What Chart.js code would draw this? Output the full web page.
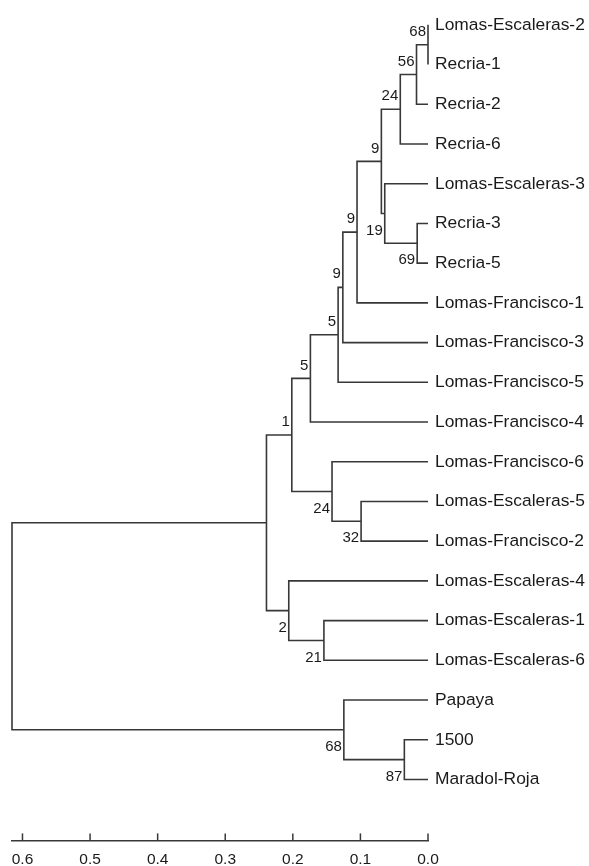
<!DOCTYPE html>
<html>
<head>
<meta charset="utf-8">
<script src="https://cdn.jsdelivr.net/npm/chart.js@4.4.1/dist/chart.umd.min.js"></script>
<style>
  html, body { margin: 0; padding: 0; background: #ffffff; }
  #wrap { position: relative; width: 589px; height: 866px; }
</style>
</head>
<body>
<div id="wrap"><canvas id="c"></canvas></div>
<script>
// ---- Data ----
const leaves = [
  'Lomas-Escaleras-2', 'Recria-1', 'Recria-2', 'Recria-6', 'Lomas-Escaleras-3',
  'Recria-3', 'Recria-5', 'Lomas-Francisco-1', 'Lomas-Francisco-3', 'Lomas-Francisco-5',
  'Lomas-Francisco-4', 'Lomas-Francisco-6', 'Lomas-Escaleras-5', 'Lomas-Francisco-2',
  'Lomas-Escaleras-4', 'Lomas-Escaleras-1', 'Lomas-Escaleras-6', 'Papaya', '1500', 'Maradol-Roja'
];
// Internal nodes: children refer to leaves (L#) or earlier nodes (N#)
const nodeChildA  = ['L0', 'N0', 'N1', 'L5', 'L4', 'N2', 'N5', 'N6', 'N7', 'N8', 'L12', 'L11', 'N9', 'L15', 'L14', 'N12', 'L18', 'L17', 'N15'];
const nodeChildB  = ['L1', 'L2', 'L3', 'L6', 'N3', 'N4', 'L7', 'L8', 'L9', 'L10', 'L13', 'N10', 'N11', 'L16', 'N13', 'N14', 'L19', 'N16', 'N17'];
const nodeHeight  = [0.0, 0.017, 0.041, 0.016, 0.064, 0.069, 0.105, 0.126, 0.133, 0.174, 0.099, 0.142, 0.2015, 0.154, 0.206, 0.239, 0.035, 0.1245, 0.6155];
const nodeSupport = [68, 56, 24, 69, 19, 9, 9, 9, 5, 5, 32, 24, 1, 21, 2, null, 87, 68, null];
const supportSide = ['above', 'above', 'above', 'below', 'below', 'above', 'above', 'above', 'above', 'above', 'below', 'below', 'above', 'below', 'below', null, 'below', 'below', null];
const axisTicks = [0.0, 0.1, 0.2, 0.3, 0.4, 0.5, 0.6];

// ---- Build tree geometry (in data units) ----
const nodeY = [];
function refPos(ref) {
  const idx = parseInt(ref.slice(1), 10);
  if (ref[0] === 'L') return { x: 0, y: idx };
  return { x: nodeHeight[idx], y: nodeY[idx] };
}
const datasets = [];
for (let i = 0; i < nodeHeight.length; i++) {
  const a = refPos(nodeChildA[i]);
  const b = refPos(nodeChildB[i]);
  const h = nodeHeight[i];
  nodeY[i] = (a.y + b.y) / 2;
  datasets.push({
    data: [{ x: a.x, y: a.y }, { x: h, y: a.y }, { x: h, y: b.y }, { x: b.x, y: b.y }],
    showLine: true,
    borderColor: '#383838',
    borderWidth: 1.6,
    pointRadius: 0,
    pointHoverRadius: 0,
    fill: false,
    tension: 0,
    clip: false
  });
}

const TEXT = '#1a1a1a';
const FONT = '"Liberation Sans", Arial, sans-serif';

const overlay = {
  id: 'overlay',
  afterDraw(chart) {
    const ctx = chart.ctx;
    const xs = chart.scales.x, ys = chart.scales.y;
    ctx.save();
    // upward tick marks on the axis
    ctx.strokeStyle = '#383838';
    ctx.lineWidth = 1.5;
    const base = chart.chartArea.bottom;
    axisTicks.forEach(v => {
      const px = xs.getPixelForValue(v);
      ctx.beginPath();
      ctx.moveTo(px, base);
      ctx.lineTo(px, base - 7);
      ctx.stroke();
    });
    // leaf labels
    ctx.fillStyle = TEXT;
    ctx.font = '17.4px ' + FONT;
    ctx.textAlign = 'left';
    ctx.textBaseline = 'middle';
    const x0 = xs.getPixelForValue(0);
    leaves.forEach((name, i) => {
      ctx.fillText(name, x0 + 7, ys.getPixelForValue(i));
    });
    // bootstrap support values
    ctx.font = '15px ' + FONT;
    ctx.textAlign = 'right';
    for (let i = 0; i < nodeHeight.length; i++) {
      if (nodeSupport[i] === null) continue;
      const px = xs.getPixelForValue(nodeHeight[i]);
      const py = ys.getPixelForValue(nodeY[i]);
      const off = supportSide[i] === 'above' ? -13 : 17;
      ctx.fillText(String(nodeSupport[i]), px - 2, py + off);
    }
    ctx.restore();
  }
};

new Chart(document.getElementById('c'), {
  type: 'scatter',
  data: { datasets },
  options: {
    responsive: true,
    maintainAspectRatio: false,
    animation: false,
    events: [],
    layout: { padding: { left: 12, right: 161, top: 5, bottom: -13 } },
    plugins: { legend: { display: false }, tooltip: { enabled: false }, title: { display: false } },
    scales: {
      x: {
        type: 'linear',
        reverse: true,
        min: 0,
        max: 0.6155,
        afterBuildTicks: (scale) => { scale.ticks = axisTicks.map(v => ({ value: v })); },
        grid: { display: false, drawTicks: false },
        border: { display: true, color: '#383838', width: 1.5 },
        ticks: {
          color: TEXT,
          font: { family: FONT, size: 15.5 },
          padding: 10,
          maxRotation: 0,
          autoSkip: false,
          callback: (v) => Number(v).toFixed(1)
        }
      },
      y: {
        type: 'linear',
        display: false,
        reverse: true,
        min: -0.5,
        max: 20.535
      }
    }
  },
  plugins: [overlay]
});
</script>
</body>
</html>
